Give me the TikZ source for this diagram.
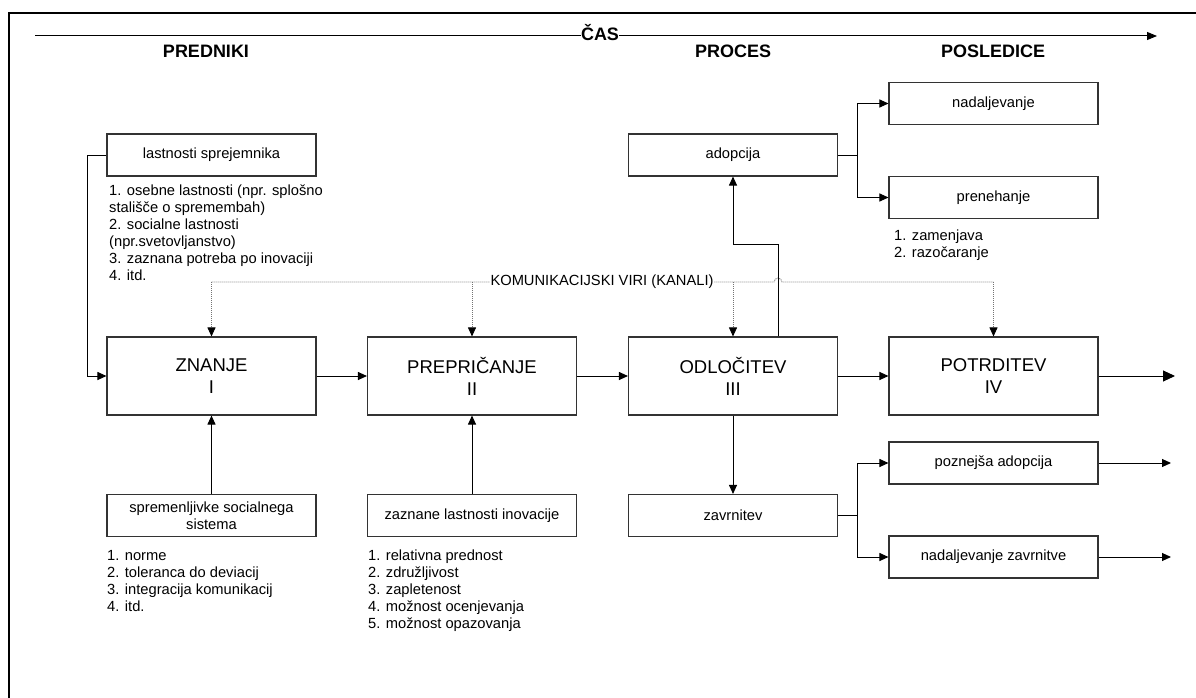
\documentclass[tikz,border=0pt]{standalone}
\usepackage{fontspec}
\setmainfont{Liberation Sans}
\usetikzlibrary{arrows.meta,calc}
\begin{document}
\begin{tikzpicture}[x=1pt,y=-1pt,
  txt/.style={font=\fontsize{14.7}{17}\selectfont},
  box/.style={draw=black!80, line width=1.1pt, minimum width=209pt, minimum height=42pt,
              inner sep=0pt, align=center, txt},
  stage/.style={box, minimum height=78pt, font=\fontsize{18.5}{22}\selectfont},
  head/.style={font=\fontsize{18}{22}\selectfont\bfseries, anchor=base, inner sep=0pt},
  list/.style={anchor=base west, inner sep=0pt, txt},
  tip/.style={-{Triangle[length=9pt,width=8pt]}},
  bigtip/.style={-{Triangle[length=12pt,width=11pt]}},
  line/.style={line width=1pt, black},
  conn/.style={line, tip},
  chan/.style={line width=0.9pt, black!55, dash pattern=on 1pt off 1pt},
  chantip/.style={chan, -{Triangle[length=9pt,width=8pt,color=black]}},
]
\useasboundingbox (0,0) rectangle (1196,698);

% frame
\draw[line width=2pt] (9,698) -- (9,13) -- (1196,13);

% time axis
\coordinate (ax0) at (35,36);
\coordinate (ax1) at (1157,36);
\draw[line, -{Triangle[length=10pt,width=8pt]}] (ax0) -- (ax1);
\node[font=\fontsize{18}{22}\selectfont\bfseries, fill=white, inner sep=0pt, anchor=base] (cas) at (600,41) {ČAS};

% phase headings
\node[head] (hpred) at (206,58) {PREDNIKI};
\node[head] (hproc) at (733,58) {PROCES};
\node[head] (hpos)  at (993,58) {POSLEDICE};

% main stages
\node[stage] (znanje) at (211.5,376) {ZNANJE\\I};
\node[stage] (prep)   at (472,376)   {PREPRIČANJE\\II};
\node[stage] (odl)    at (733,376)   {ODLOČITEV\\III};
\node[stage] (pot)    at (993.5,376) {POTRDITEV\\IV};

% antecedents
\node[box] (lastn) at (211.5,155) {lastnosti sprejemnika};
\node[list] (lastnl) at (109,195) {\begin{tabular}[t]{@{}l@{}}
1. osebne lastnosti (npr. splošno\\
stališče o spremembah)\\
2. socialne lastnosti\\
(npr.svetovljanstvo)\\
3. zaznana potreba po inovaciji\\
4. itd.\end{tabular}};

\node[box, font=\fontsize{14.7}{16.5}\selectfont] (sprem) at (211.5,515.5) {spremenljivke socialnega\\sistema};
\node[list] (sproml) at (107,560) {\begin{tabular}[t]{@{}l@{}}
1. norme\\
2. toleranca do deviacij\\
3. integracija komunikacij\\
4. itd.\end{tabular}};

\node[box] (zazn) at (472,515.5) {zaznane lastnosti inovacije};
\node[list] (zaznl) at (368,560) {\begin{tabular}[t]{@{}l@{}}
1. relativna prednost\\
2. združljivost\\
3. zapletenost\\
4. možnost ocenjevanja\\
5. možnost opazovanja\end{tabular}};

% decision outcomes
\node[box] (adop)   at (733,155)   {adopcija};
\node[box] (nadal)  at (993.5,103.5) {nadaljevanje};
\node[box] (preneh) at (993.5,197.5) {prenehanje};
\node[list] (prenehl) at (894,240) {\begin{tabular}[t]{@{}l@{}}
1. zamenjava\\
2. razočaranje\end{tabular}};

\node[box] (zavr)   at (733,515.5) {zavrnitev};
\node[box] (pozn)   at (993.5,463) {poznejša adopcija};
\node[box] (nadzav) at (993.5,557) {nadaljevanje zavrnitve};

% stage sequence
\draw[conn] (znanje.east) -- (prep.west);
\draw[conn] (prep.east) -- (odl.west);
\draw[conn] (odl.east) -- (pot.west);
\coordinate (potout) at (1175,376);
\draw[line, bigtip] (pot.east) -- (potout);

% antecedent inputs
\coordinate (lk) at (87,155);
\draw[conn] (lastn.west) -- (lk) |- (znanje.west);
\draw[conn] (sprem.north) -- (znanje.south);
\draw[conn] (zazn.north) -- (prep.south);

% communication channels
\coordinate (c0) at (211.5,282);
\coordinate (c1) at (472,282);
\coordinate (c2) at (733,282);
\coordinate (c3) at (993.5,282);
\draw[chan] (c0) -- (774,282) arc[start angle=180, end angle=0, radius=4pt] -- (c3);
\node[txt, fill=white, inner xsep=0.5pt, inner ysep=1pt] (kom) at (602,282) {KOMUNIKACIJSKI VIRI (KANALI)};
\draw[chantip] (c0) -- (znanje.north);
\draw[chantip] (c1) -- (prep.north);
\draw[chantip] (c2) -- (odl.north);
\draw[chantip] (c3) -- (pot.north);

% decision branches
\coordinate (oup) at ($(odl.north)+(45,0)$);
\coordinate (obend) at (778,244);
\draw[conn] (oup) -- (obend) -| (adop.south);
\draw[conn] (odl.south) -- (zavr.north);

\coordinate (ab) at (857,155);
\draw[line] (adop.east) -- (ab);
\draw[conn] (ab) |- (nadal.west);
\draw[conn] (ab) |- (preneh.west);

\coordinate (zb) at (857,515.5);
\draw[line] (zavr.east) -- (zb);
\draw[conn] (zb) |- (pozn.west);
\draw[conn] (zb) |- (nadzav.west);

\coordinate (poznout) at (1171,463);
\coordinate (nadzout) at (1171,557);
\draw[conn] (pozn.east) -- (poznout);
\draw[conn] (nadzav.east) -- (nadzout);
\end{tikzpicture}
\end{document}
